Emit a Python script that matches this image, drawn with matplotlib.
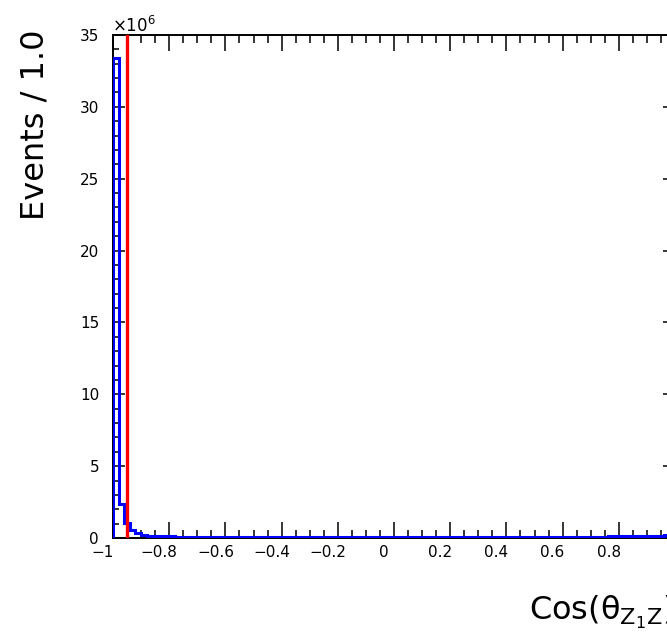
import matplotlib
matplotlib.use('Agg')
from matplotlib import pyplot as plt
from matplotlib.ticker import MultipleLocator, FuncFormatter
import matplotlib.transforms as mtransforms

import numpy as np

# histogram of cos(theta), 100 bins of 0.02 from -1 to 1 (values in events)
bin_edges = np.linspace(-1.0, 1.0, 101)
events_millions = [
	33.4, 2.40, 1.02, 0.55, 0.37, 0.24, 0.17, 0.14, 0.12, 0.11,
	0.105, 0.10, 0.10, 0.095, 0.095, 0.09, 0.09, 0.09, 0.085, 0.085,
	0.085, 0.08, 0.08, 0.08, 0.08, 0.08, 0.075, 0.075, 0.075, 0.075,
	0.075, 0.075, 0.07, 0.07, 0.07, 0.07, 0.07, 0.07, 0.07, 0.07,
	0.07, 0.07, 0.07, 0.07, 0.07, 0.07, 0.07, 0.07, 0.07, 0.07,
	0.07, 0.07, 0.07, 0.07, 0.07, 0.07, 0.07, 0.07, 0.07, 0.07,
	0.07, 0.07, 0.07, 0.07, 0.07, 0.07, 0.07, 0.075, 0.075, 0.075,
	0.075, 0.075, 0.075, 0.08, 0.08, 0.08, 0.08, 0.08, 0.085, 0.085,
	0.085, 0.09, 0.09, 0.09, 0.095, 0.095, 0.10, 0.10, 0.105, 0.11,
	0.11, 0.115, 0.12, 0.125, 0.13, 0.14, 0.15, 0.16, 0.18, 0.20,
]
events = np.array(events_millions) * 1e6
cut_value = -0.95

x_ticks = [-1, -0.8, -0.6, -0.4, -0.2, 0, 0.2, 0.4, 0.6, 0.8, 1]
x_tick_labels = ['\u22121', '\u22120.8', '\u22120.6', '\u22120.4', '\u22120.2', '0', '0.2', '0.4', '0.6', '0.8', '']
y_ticks = [0, 5e6, 10e6, 15e6, 20e6, 25e6, 30e6, 35e6]

plt.rcParams['font.family'] = ['DejaVu Sans']

fig = plt.figure(figsize=[6.67, 6.36], dpi=100)
ax = fig.add_axes([113/667, 98/636, 562/667, 503/636])

ax.stairs(events, bin_edges, color='blue', linewidth=2.2, zorder=3)
ax.axvline(cut_value, color='red', linewidth=2.4, zorder=4)

ax.set_xlim(-1, 1)
ax.set_ylim(0, 35e6)

ax.set_xticks(x_ticks, x_tick_labels)
ax.xaxis.set_minor_locator(MultipleLocator(0.05))
ax.set_yticks(y_ticks)
ax.yaxis.set_minor_locator(MultipleLocator(1e6))
ax.yaxis.set_major_formatter(FuncFormatter(lambda v, pos: '%d' % round(v / 1e6)))

ax.tick_params(which='both', direction='in', top=True, right=True, width=1.1, labelsize=11)
ax.tick_params(axis='x', which='major', length=11.5, pad=5)
ax.tick_params(axis='x', which='minor', length=5.8)
ax.tick_params(axis='y', which='major', length=8.6, pad=10)
ax.tick_params(axis='y', which='minor', length=4.3)
for side in ['left', 'right', 'top', 'bottom']:
	ax.spines[side].set_linewidth(1.4)

# x labels sit a little left of their ticks
shift = mtransforms.ScaledTranslation(-10/100, 0, fig.dpi_scale_trans)
for lab in ax.get_xticklabels():
	lab.set_transform(lab.get_transform() + shift)

fig.text(112/667, 1 - 32/636, r'$\mathregular{\times10^{6}}$', fontsize=12, ha='left', va='baseline')

fig.text(35/667, 1 - 30/636, 'Events / 1.0', rotation=90, ha='center', va='top', fontsize=23)

fig.text(674/667, 16/636, r'Cos($\mathregular{\theta_{Z_{1}Z}}$)', fontsize=23, ha='right', va='baseline')

plt.savefig('out.png', dpi=100)
plt.close()
